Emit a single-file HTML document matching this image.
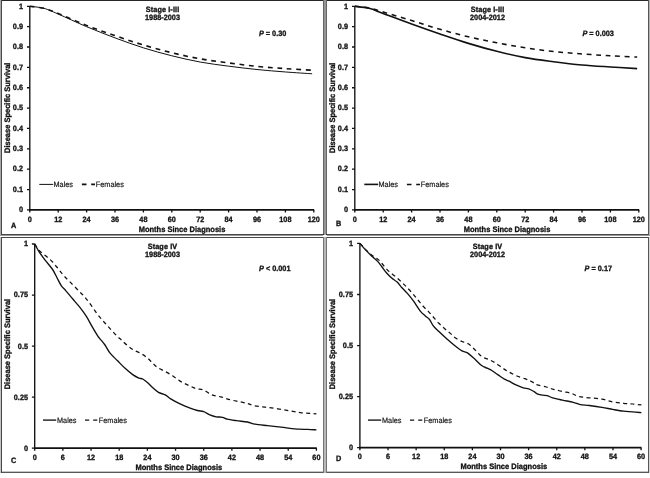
<!DOCTYPE html>
<html lang="en"><head><meta charset="utf-8"><title>Disease Specific Survival</title>
<style>
html,body{margin:0;padding:0;background:#fff;}
body{width:650px;height:478px;overflow:hidden;}
svg{display:block;}
text{font-family:'Liberation Sans', Arial, Helvetica, sans-serif;font-size:7.3px;fill:#111;text-rendering:geometricPrecision;}
.b text,text.b{font-weight:bold;stroke:#111;stroke-width:0.3px;}
text.r{stroke:#111;stroke-width:0.15px;}
text.ax{font-size:7.5px;}
text.ls{letter-spacing:0.1px;}
</style></head><body>
<svg width="650" height="478" viewBox="0 0 650 478">
<rect width="650" height="478" fill="#fff"/>
<g shape-rendering="crispEdges">
<rect x="0" y="0" width="650" height="1" fill="#262626"/>
<rect x="0" y="234" width="650" height="1" fill="#484848"/>
<rect x="0" y="235" width="650" height="1" fill="#9a9a9a"/>
<rect x="0" y="237" width="650" height="1" fill="#484848"/>
<rect x="0" y="471" width="650" height="1" fill="#c4c4c4"/>
<rect x="0" y="472" width="650" height="1" fill="#585858"/>
<rect x="0" y="0" width="1" height="235" fill="#a8a8a8"/>
<rect x="0" y="237" width="1" height="236" fill="#c4c4c4"/>
<rect x="1" y="0" width="1" height="235" fill="#484848"/>
<rect x="1" y="237" width="1" height="236" fill="#484848"/>
<rect x="648" y="0" width="1" height="235" fill="#555"/>
<rect x="648" y="237" width="1" height="236" fill="#555"/>
<rect x="649" y="0" width="1" height="235" fill="#b4b4b4"/>
<rect x="649" y="237" width="1" height="236" fill="#d8d8d8"/>
<rect x="324" y="0" width="2" height="473" fill="#969696"/>
<rect x="324" y="236" width="2" height="237" fill="#b8b8b8"/>
<rect x="323" y="0" width="1" height="473" fill="#666"/>
<rect x="326" y="0" width="1" height="473" fill="#666"/>
<rect x="323" y="237" width="1" height="236" fill="#747474"/>
<rect x="326" y="237" width="1" height="236" fill="#747474"/>
<rect x="323" y="234" width="1" height="1" fill="#222"/>
<rect x="326" y="234" width="1" height="1" fill="#222"/>
<rect x="323" y="235" width="4" height="2" fill="#fff"/>
<rect x="324" y="234" width="2" height="1" fill="#aaa"/>
<rect x="0" y="236" width="650" height="1" fill="#fff"/>
</g>
<g stroke="#111" stroke-width="1.5" fill="none">
<path stroke-width="1.35" d="M29.8 6V210.75"/>
<path stroke-width="1.7" d="M29.13 209.9H314.2"/>
<path stroke-width="1.3" d="M27 209.9H29.8M27 189.54H29.8M27 169.18H29.8M27 148.82H29.8M27 128.46H29.8M27 108.1H29.8M27 87.74H29.8M27 67.38H29.8M27 47.02H29.8M27 26.66H29.8M27 6.3H29.8M29.8 209.9V212.5M58.2 209.9V212.5M86.6 209.9V212.5M115 209.9V212.5M143.4 209.9V212.5M171.8 209.9V212.5M200.2 209.9V212.5M228.6 209.9V212.5M257 209.9V212.5M285.4 209.9V212.5M313.8 209.9V212.5"/>
</g>
<g class="b" text-anchor="end">
<text transform="translate(23 212.2) scale(1 1.06)">0</text>
<text transform="translate(23 191.84) scale(1 1.06)">0.1</text>
<text transform="translate(23 171.48) scale(1 1.06)">0.2</text>
<text transform="translate(23 151.12) scale(1 1.06)">0.3</text>
<text transform="translate(23 130.76) scale(1 1.06)">0.4</text>
<text transform="translate(23 110.4) scale(1 1.06)">0.5</text>
<text transform="translate(23 90.04) scale(1 1.06)">0.6</text>
<text transform="translate(23 69.68) scale(1 1.06)">0.7</text>
<text transform="translate(23 49.32) scale(1 1.06)">0.8</text>
<text transform="translate(23 28.96) scale(1 1.06)">0.9</text>
<text transform="translate(23 8.6) scale(1 1.06)">1</text>
</g>
<g class="b" text-anchor="middle">
<text transform="translate(29.8 221.7) scale(1 1.06)">0</text>
<text transform="translate(58.2 221.7) scale(1 1.06)">12</text>
<text transform="translate(86.6 221.7) scale(1 1.06)">24</text>
<text transform="translate(115 221.7) scale(1 1.06)">36</text>
<text transform="translate(143.4 221.7) scale(1 1.06)">48</text>
<text transform="translate(171.8 221.7) scale(1 1.06)">60</text>
<text transform="translate(200.2 221.7) scale(1 1.06)">72</text>
<text transform="translate(228.6 221.7) scale(1 1.06)">84</text>
<text transform="translate(257 221.7) scale(1 1.06)">96</text>
<text transform="translate(285.4 221.7) scale(1 1.06)">108</text>
<text transform="translate(313.8 221.7) scale(1 1.06)">120</text>
</g>
<g class="b" text-anchor="middle">
<text class="ls" transform="translate(162.5 11.8) scale(1 1.06)">Stage I-III</text>
<text transform="translate(162.5 20.3) scale(1 1.06)">1988-2003</text>
<text class="ax" transform="translate(182 232.2) scale(1 1.06)">Months Since Diagnosis</text>
<text class="ax" transform="translate(10.2 107.8) rotate(-90) scale(1 1.06)">Disease Specific Survival</text>
</g>
<text class="b" transform="translate(258.9 36.4) scale(1 1.06)"><tspan font-style="italic">P</tspan> = 0.30</text>
<text class="b" transform="translate(11 228) scale(1 1.06)">A</text>
<path d="M39.3 184.4h13.9" stroke="#111" stroke-width="1.0"/>
<path d="M81.9 184.4h4.6m4.7 0h3.8" stroke="#111" stroke-width="1.6"/>
<text class="r" transform="translate(53.5 187) scale(1 1.06)">Males</text>
<text class="r" transform="translate(95.8 187) scale(1 1.06)">Females</text>
<path d="M29.8 6.3 C32.17 6.64 39.27 7.05 44 8.34 C48.73 9.63 51.1 10.98 58.2 14.04 C65.3 17.09 77.13 22.69 86.6 26.66 C96.07 30.63 105.53 34.33 115 37.86 C124.47 41.39 133.93 44.85 143.4 47.83 C152.87 50.82 162.33 53.41 171.8 55.77 C181.27 58.14 190.73 60.32 200.2 62.05 C209.67 63.78 219.13 64.91 228.6 66.16 C238.07 67.4 247.53 68.55 257 69.52 C266.47 70.48 276.21 71.25 285.4 71.96 C294.59 72.67 307.69 73.49 312.14 73.79" fill="none" stroke="#111" stroke-width="1.0" stroke-linejoin="round"/>
<path d="M29.8 6.3 C32.17 6.64 39.27 7.15 44 8.34 C48.73 9.52 51.1 10.58 58.2 13.43 C65.3 16.28 77.13 21.74 86.6 25.44 C96.07 29.14 105.53 32.36 115 35.62 C124.47 38.88 133.93 42.13 143.4 44.98 C152.87 47.83 162.33 50.41 171.8 52.72 C181.27 55.03 190.73 57.13 200.2 58.83 C209.67 60.53 219.13 61.65 228.6 62.9 C238.07 64.16 247.53 65.41 257 66.36 C266.47 67.31 276.21 67.96 285.4 68.6 C294.59 69.25 307.69 69.96 312.14 70.23" fill="none" stroke="#111" stroke-width="1.6" stroke-dasharray="4.8 4.7" stroke-linejoin="round"/>
<g stroke="#111" stroke-width="1.5" fill="none">
<path stroke-width="1.35" d="M354.8 6V210.75"/>
<path stroke-width="1.7" d="M354.13 209.9H639.2"/>
<path stroke-width="1.3" d="M352 209.9H354.8M352 189.54H354.8M352 169.18H354.8M352 148.82H354.8M352 128.46H354.8M352 108.1H354.8M352 87.74H354.8M352 67.38H354.8M352 47.02H354.8M352 26.66H354.8M352 6.3H354.8M354.8 209.9V212.5M383.2 209.9V212.5M411.6 209.9V212.5M440 209.9V212.5M468.4 209.9V212.5M496.8 209.9V212.5M525.2 209.9V212.5M553.6 209.9V212.5M582 209.9V212.5M610.4 209.9V212.5M638.8 209.9V212.5"/>
</g>
<g class="b" text-anchor="end">
<text transform="translate(348 212.2) scale(1 1.06)">0</text>
<text transform="translate(348 191.84) scale(1 1.06)">0.1</text>
<text transform="translate(348 171.48) scale(1 1.06)">0.2</text>
<text transform="translate(348 151.12) scale(1 1.06)">0.3</text>
<text transform="translate(348 130.76) scale(1 1.06)">0.4</text>
<text transform="translate(348 110.4) scale(1 1.06)">0.5</text>
<text transform="translate(348 90.04) scale(1 1.06)">0.6</text>
<text transform="translate(348 69.68) scale(1 1.06)">0.7</text>
<text transform="translate(348 49.32) scale(1 1.06)">0.8</text>
<text transform="translate(348 28.96) scale(1 1.06)">0.9</text>
<text transform="translate(348 8.6) scale(1 1.06)">1</text>
</g>
<g class="b" text-anchor="middle">
<text transform="translate(354.8 221.7) scale(1 1.06)">0</text>
<text transform="translate(383.2 221.7) scale(1 1.06)">12</text>
<text transform="translate(411.6 221.7) scale(1 1.06)">24</text>
<text transform="translate(440 221.7) scale(1 1.06)">36</text>
<text transform="translate(468.4 221.7) scale(1 1.06)">48</text>
<text transform="translate(496.8 221.7) scale(1 1.06)">60</text>
<text transform="translate(525.2 221.7) scale(1 1.06)">72</text>
<text transform="translate(553.6 221.7) scale(1 1.06)">84</text>
<text transform="translate(582 221.7) scale(1 1.06)">96</text>
<text transform="translate(610.4 221.7) scale(1 1.06)">108</text>
<text transform="translate(638.8 221.7) scale(1 1.06)">120</text>
</g>
<g class="b" text-anchor="middle">
<text class="ls" transform="translate(487.5 11.8) scale(1 1.06)">Stage I-III</text>
<text transform="translate(487.5 20.3) scale(1 1.06)">2004-2012</text>
<text class="ax" transform="translate(507 232.2) scale(1 1.06)">Months Since Diagnosis</text>
<text class="ax" transform="translate(335.2 107.8) rotate(-90) scale(1 1.06)">Disease Specific Survival</text>
</g>
<text class="b" transform="translate(582.4 36.4) scale(1 1.06)"><tspan font-style="italic">P</tspan> = 0.003</text>
<text class="b" transform="translate(336 225.6) scale(1 1.06)">B</text>
<path d="M364.3 184.4h13.9" stroke="#111" stroke-width="1.6"/>
<path d="M406.9 184.4h4.6m4.7 0h3.8" stroke="#111" stroke-width="1.55"/>
<text class="r" transform="translate(378.5 187) scale(1 1.06)">Males</text>
<text class="r" transform="translate(420.8 187) scale(1 1.06)">Females</text>
<path d="M354.8 6.3 C357.17 6.64 364.27 7.15 369 8.34 C373.73 9.52 376.1 10.81 383.2 13.43 C390.3 16.04 402.13 20.59 411.6 24.01 C421.07 27.44 430.53 30.77 440 33.99 C449.47 37.21 458.93 40.47 468.4 43.36 C477.87 46.24 487.33 48.92 496.8 51.3 C506.27 53.67 515.73 55.88 525.2 57.61 C534.67 59.34 544.13 60.46 553.6 61.68 C563.07 62.9 572.53 64.05 582 64.94 C591.47 65.82 601.21 66.36 610.4 66.97 C619.59 67.58 632.69 68.33 637.14 68.6" fill="none" stroke="#111" stroke-width="1.6" stroke-linejoin="round"/>
<path d="M354.8 6.3 C357.17 6.57 364.27 6.98 369 7.93 C373.73 8.88 376.1 9.9 383.2 12 C390.3 14.1 402.13 17.67 411.6 20.55 C421.07 23.44 430.53 26.59 440 29.31 C449.47 32.02 458.93 34.6 468.4 36.84 C477.87 39.08 487.33 40.91 496.8 42.74 C506.27 44.58 515.73 46.38 525.2 47.83 C534.67 49.29 544.13 50.48 553.6 51.5 C563.07 52.52 572.53 53.23 582 53.94 C591.47 54.66 601.21 55.25 610.4 55.77 C619.59 56.3 632.69 56.88 637.14 57.1" fill="none" stroke="#111" stroke-width="1.55" stroke-dasharray="4.8 4.7" stroke-linejoin="round"/>
<g stroke="#111" stroke-width="1.5" fill="none">
<path stroke-width="1.35" d="M34.7 243.7V449.05"/>
<path stroke-width="1.7" d="M34.03 448.2H316.8"/>
<path stroke-width="1.3" d="M31.9 448.2H34.7M31.9 397.15H34.7M31.9 346.1H34.7M31.9 295.05H34.7M31.9 244H34.7M34.7 448.2V450.8M62.87 448.2V450.8M91.04 448.2V450.8M119.21 448.2V450.8M147.38 448.2V450.8M175.55 448.2V450.8M203.72 448.2V450.8M231.89 448.2V450.8M260.06 448.2V450.8M288.23 448.2V450.8M316.4 448.2V450.8"/>
</g>
<g class="b" text-anchor="end">
<text transform="translate(28 450.6) scale(1 1.06)">0</text>
<text transform="translate(28 399.55) scale(1 1.06)">0.25</text>
<text transform="translate(28 348.5) scale(1 1.06)">0.5</text>
<text transform="translate(28 297.45) scale(1 1.06)">0.75</text>
<text transform="translate(28 246.4) scale(1 1.06)">1</text>
</g>
<g class="b" text-anchor="middle">
<text transform="translate(34.7 459.7) scale(1 1.06)">0</text>
<text transform="translate(62.87 459.7) scale(1 1.06)">6</text>
<text transform="translate(91.04 459.7) scale(1 1.06)">12</text>
<text transform="translate(119.21 459.7) scale(1 1.06)">18</text>
<text transform="translate(147.38 459.7) scale(1 1.06)">24</text>
<text transform="translate(175.55 459.7) scale(1 1.06)">30</text>
<text transform="translate(203.72 459.7) scale(1 1.06)">36</text>
<text transform="translate(231.89 459.7) scale(1 1.06)">42</text>
<text transform="translate(260.06 459.7) scale(1 1.06)">48</text>
<text transform="translate(288.23 459.7) scale(1 1.06)">54</text>
<text transform="translate(316.4 459.7) scale(1 1.06)">60</text>
</g>
<g class="b" text-anchor="middle">
<text class="ls" transform="translate(162.5 248.6) scale(1 1.06)">Stage IV</text>
<text transform="translate(162.5 257.4) scale(1 1.06)">1988-2003</text>
<text class="ax" transform="translate(178.8 469.6) scale(1 1.06)">Months Since Diagnosis</text>
<text class="ax" transform="translate(10.2 344.1) rotate(-90) scale(1 1.06)">Disease Specific Survival</text>
</g>
<text class="b" transform="translate(259 270.5) scale(1 1.06)"><tspan font-style="italic">P</tspan> &lt; 0.001</text>
<text class="b" transform="translate(11 463) scale(1 1.06)">C</text>
<path d="M43 420.1h13.2" stroke="#111" stroke-width="1.35"/>
<path d="M85 420.1h4.2m4 0h4.1" stroke="#111" stroke-width="1.25"/>
<text class="r" transform="translate(57 422.7) scale(1 1.06)">Males</text>
<text class="r" transform="translate(98.8 422.7) scale(1 1.06)">Females</text>
<path d="M34.7 244 C35.38 245.22 37.07 248.62 38.8 251.3 C40.53 253.98 42.8 257.07 45.1 260.1 C47.4 263.13 50.62 266.57 52.6 269.5 C54.58 272.43 55.53 274.97 57 277.7 C58.47 280.43 59.95 283.75 61.4 285.9 C62.85 288.05 63.83 288.45 65.7 290.6 C67.57 292.75 70.2 295.97 72.6 298.8 C75 301.63 77.8 304.67 80.1 307.6 C82.4 310.53 84.42 313.27 86.4 316.4 C88.38 319.53 90.12 323.15 92 326.4 C93.88 329.65 96.37 333.83 97.7 335.9 C99.03 337.97 98.78 337.28 100 338.8 C101.22 340.32 103.32 342.6 105 345 C106.68 347.4 108 350.57 110.1 353.2 C112.2 355.83 115.1 358.28 117.6 360.8 C120.1 363.32 122.58 366 125.1 368.3 C127.62 370.6 130.4 372.97 132.7 374.6 C135 376.23 137.23 377.37 138.9 378.1 C140.57 378.83 141.23 378.23 142.7 379 C144.17 379.77 146.02 381.23 147.7 382.7 C149.38 384.17 151 386.18 152.8 387.8 C154.6 389.42 156.42 391.22 158.5 392.4 C160.58 393.58 163.27 393.83 165.3 394.9 C167.33 395.97 168.23 397.3 170.7 398.8 C173.17 400.3 176.97 402.38 180.1 403.9 C183.23 405.42 186.62 406.8 189.5 407.9 C192.38 409 195.03 409.88 197.4 410.5 C199.77 411.12 201.62 410.87 203.7 411.6 C205.78 412.33 207.82 414.03 209.9 414.9 C211.98 415.77 214.1 416.4 216.2 416.8 C218.3 417.2 220.67 416.9 222.5 417.3 C224.33 417.7 224.85 418.63 227.2 419.2 C229.55 419.77 233.22 420.23 236.6 420.7 C239.98 421.17 244.42 421.42 247.5 422 C250.58 422.58 251.75 423.6 255.1 424.2 C258.45 424.8 263.63 425.17 267.6 425.6 C271.57 426.03 275.43 426.38 278.9 426.8 C282.37 427.22 285.05 427.7 288.4 428.1 C291.75 428.5 295.77 428.98 299 429.2 C302.23 429.42 304.9 429.28 307.8 429.4 C310.7 429.52 314.97 429.82 316.4 429.9" fill="none" stroke="#111" stroke-width="1.35" stroke-linejoin="round"/>
<path d="M34.7 244 C35.48 245.12 37.47 248.65 39.4 250.7 C41.33 252.75 44.1 254.42 46.3 256.3 C48.5 258.18 50.6 259.9 52.6 262 C54.6 264.1 56.42 266.6 58.3 268.9 C60.18 271.2 61.92 273.6 63.9 275.8 C65.88 278 67.75 279.62 70.2 282.1 C72.65 284.58 76.12 288.13 78.6 290.7 C81.08 293.27 82.97 295 85.1 297.5 C87.23 300 89.3 302.87 91.4 305.7 C93.5 308.53 95.6 311.78 97.7 314.5 C99.8 317.22 101.9 319.6 104 322 C106.1 324.4 108.13 326.57 110.3 328.9 C112.47 331.23 115.15 334.15 117 336 C118.85 337.85 119.63 338.38 121.4 340 C123.17 341.62 125.52 344.02 127.6 345.7 C129.68 347.38 131.58 348.75 133.9 350.1 C136.22 351.45 139.2 352.45 141.5 353.8 C143.8 355.15 145.82 356.62 147.7 358.2 C149.58 359.78 151.12 361.72 152.8 363.3 C154.48 364.88 155.77 366.35 157.8 367.7 C159.83 369.05 162.53 370.05 165 371.4 C167.47 372.75 170.08 374.18 172.6 375.8 C175.12 377.42 177.53 379.55 180.1 381.1 C182.67 382.65 185.38 383.87 188 385.1 C190.62 386.33 193.18 387.67 195.8 388.5 C198.42 389.33 201.08 389.05 203.7 390.1 C206.32 391.15 208.63 393.67 211.5 394.8 C214.37 395.93 217.75 396.07 220.9 396.9 C224.05 397.73 227.22 398.98 230.4 399.8 C233.58 400.62 237.15 401.18 240 401.8 C242.85 402.42 245.2 402.87 247.5 403.5 C249.8 404.13 250.87 404.98 253.8 405.6 C256.73 406.22 261.12 406.67 265.1 407.2 C269.08 407.73 273.5 408.17 277.7 408.8 C281.9 409.43 286.53 410.37 290.3 411 C294.07 411.63 296.95 412.2 300.3 412.6 C303.65 413 307.72 413.18 310.4 413.4 C313.08 413.62 315.4 413.82 316.4 413.9" fill="none" stroke="#111" stroke-width="1.25" stroke-dasharray="4.0 3.4" stroke-linejoin="round"/>
<g stroke="#111" stroke-width="1.5" fill="none">
<path stroke-width="1.35" d="M359.9 243.1V448.55"/>
<path stroke-width="1.7" d="M359.23 447.7H641.5"/>
<path stroke-width="1.3" d="M357.1 447.7H359.9M357.1 396.62H359.9M357.1 345.55H359.9M357.1 294.48H359.9M357.1 243.4H359.9M359.9 447.7V450.3M388.02 447.7V450.3M416.14 447.7V450.3M444.26 447.7V450.3M472.38 447.7V450.3M500.5 447.7V450.3M528.62 447.7V450.3M556.74 447.7V450.3M584.86 447.7V450.3M612.98 447.7V450.3M641.1 447.7V450.3"/>
</g>
<g class="b" text-anchor="end">
<text transform="translate(353 450.1) scale(1 1.06)">0</text>
<text transform="translate(353 399.02) scale(1 1.06)">0.25</text>
<text transform="translate(353 347.95) scale(1 1.06)">0.5</text>
<text transform="translate(353 296.88) scale(1 1.06)">0.75</text>
<text transform="translate(353 245.8) scale(1 1.06)">1</text>
</g>
<g class="b" text-anchor="middle">
<text transform="translate(359.9 459.4) scale(1 1.06)">0</text>
<text transform="translate(388.02 459.4) scale(1 1.06)">6</text>
<text transform="translate(416.14 459.4) scale(1 1.06)">12</text>
<text transform="translate(444.26 459.4) scale(1 1.06)">18</text>
<text transform="translate(472.38 459.4) scale(1 1.06)">24</text>
<text transform="translate(500.5 459.4) scale(1 1.06)">30</text>
<text transform="translate(528.62 459.4) scale(1 1.06)">36</text>
<text transform="translate(556.74 459.4) scale(1 1.06)">42</text>
<text transform="translate(584.86 459.4) scale(1 1.06)">48</text>
<text transform="translate(612.98 459.4) scale(1 1.06)">54</text>
<text transform="translate(641.1 459.4) scale(1 1.06)">60</text>
</g>
<g class="b" text-anchor="middle">
<text class="ls" transform="translate(487.5 248.6) scale(1 1.06)">Stage IV</text>
<text transform="translate(487.5 257.4) scale(1 1.06)">2004-2012</text>
<text class="ax" transform="translate(503.8 469.4) scale(1 1.06)">Months Since Diagnosis</text>
<text class="ax" transform="translate(335.2 344.1) rotate(-90) scale(1 1.06)">Disease Specific Survival</text>
</g>
<text class="b" transform="translate(584.6 270.5) scale(1 1.06)"><tspan font-style="italic">P</tspan> = 0.17</text>
<text class="b" transform="translate(336 461) scale(1 1.06)">D</text>
<path d="M368 420.1h13.2" stroke="#111" stroke-width="1.35"/>
<path d="M410 420.1h4.2m4 0h4.1" stroke="#111" stroke-width="1.25"/>
<text class="r" transform="translate(382 422.7) scale(1 1.06)">Males</text>
<text class="r" transform="translate(423.8 422.7) scale(1 1.06)">Females</text>
<path d="M359.9 243.4 C360.77 244.4 363.2 247.35 365.1 249.4 C367 251.45 369.22 253.7 371.3 255.7 C373.38 257.7 375.82 259.52 377.6 261.4 C379.38 263.28 380.53 265.12 382 267 C383.47 268.88 384.83 270.92 386.4 272.7 C387.97 274.48 389.62 276.13 391.4 277.7 C393.18 279.27 395.33 280.42 397.1 282.1 C398.87 283.78 400.25 285.88 402 287.8 C403.75 289.72 405.67 291.37 407.6 293.6 C409.53 295.83 411.52 298.33 413.6 301.2 C415.68 304.07 418.18 308.37 420.1 310.8 C422.02 313.23 423.53 314.35 425.1 315.8 C426.67 317.25 428.13 317.83 429.5 319.5 C430.87 321.17 431.73 323.8 433.3 325.8 C434.87 327.8 436.72 329.4 438.9 331.5 C441.08 333.6 443.88 336.15 446.4 338.4 C448.92 340.65 451.4 342.92 454 345 C456.6 347.08 459.75 349.58 462 350.9 C464.25 352.22 465.42 351.58 467.5 352.9 C469.58 354.22 472.15 356.7 474.5 358.8 C476.85 360.9 479.5 363.93 481.6 365.5 C483.7 367.07 485.4 367.37 487.1 368.2 C488.8 369.03 489.97 369.38 491.8 370.5 C493.63 371.62 496 373.45 498.1 374.9 C500.2 376.35 502.57 378.15 504.4 379.2 C506.23 380.25 507.27 380.28 509.1 381.2 C510.93 382.12 513.05 383.6 515.4 384.7 C517.75 385.8 520.98 387.12 523.2 387.8 C525.42 388.48 526.87 388.15 528.7 388.8 C530.53 389.45 532.78 390.87 534.2 391.7 C535.62 392.53 535.8 393.22 537.2 393.8 C538.6 394.38 540.95 394.9 542.6 395.2 C544.25 395.5 545.45 395.17 547.1 395.6 C548.75 396.03 549.95 397.05 552.5 397.8 C555.05 398.55 558.95 399.35 562.4 400.1 C565.85 400.85 570.2 401.55 573.2 402.3 C576.2 403.05 577.7 404.07 580.4 404.6 C583.1 405.13 585.8 405.05 589.4 405.5 C593 405.95 598.1 406.65 602 407.3 C605.9 407.95 609.2 408.75 612.8 409.4 C616.4 410.05 620.3 410.8 623.6 411.2 C626.9 411.6 629.63 411.55 632.6 411.8 C635.57 412.05 639.93 412.55 641.4 412.7" fill="none" stroke="#111" stroke-width="1.35" stroke-linejoin="round"/>
<path d="M359.9 243.4 C360.97 244.52 364.18 248.05 366.3 250.1 C368.42 252.15 370.5 254.03 372.6 255.7 C374.7 257.37 377.02 258.42 378.9 260.1 C380.78 261.78 382.23 263.92 383.9 265.8 C385.57 267.68 387.02 269.63 388.9 271.4 C390.78 273.17 393.1 274.62 395.2 276.4 C397.3 278.18 399.62 280.33 401.5 282.1 C403.38 283.87 404.78 285.25 406.5 287 C408.22 288.75 410.05 290.63 411.8 292.6 C413.55 294.57 415.2 296.62 417 298.8 C418.8 300.98 420.72 303.6 422.6 305.7 C424.48 307.8 426.52 309.52 428.3 311.4 C430.08 313.28 431.53 315.02 433.3 317 C435.07 318.98 436.95 321.3 438.9 323.3 C440.85 325.3 443.1 327.32 445 329 C446.9 330.68 448.55 331.9 450.3 333.4 C452.05 334.9 453.55 336.65 455.5 338 C457.45 339.35 459.87 340.53 462 341.5 C464.13 342.47 466.22 342.5 468.3 343.8 C470.38 345.1 472.28 347.2 474.5 349.3 C476.72 351.4 479.23 354.7 481.6 356.4 C483.97 358.1 486.47 358.45 488.7 359.5 C490.93 360.55 492.65 361.25 495 362.7 C497.35 364.15 500.45 366.63 502.8 368.2 C505.15 369.77 506.75 370.8 509.1 372.1 C511.45 373.4 514.28 374.9 516.9 376 C519.52 377.1 522.67 377.93 524.8 378.7 C526.93 379.47 528.13 379.87 529.7 380.6 C531.27 381.33 532.95 382.4 534.2 383.1 C535.45 383.8 535.2 384.15 537.2 384.8 C539.2 385.45 543.5 386.25 546.2 387 C548.9 387.75 550.7 388.55 553.4 389.3 C556.1 390.05 559.4 390.83 562.4 391.5 C565.4 392.17 568.7 392.47 571.4 393.3 C574.1 394.13 575.6 395.75 578.6 396.5 C581.6 397.25 585.5 397.35 589.4 397.8 C593.3 398.25 598.1 398.52 602 399.2 C605.9 399.88 609.2 401.22 612.8 401.9 C616.4 402.58 620.3 402.95 623.6 403.3 C626.9 403.65 629.63 403.73 632.6 404 C635.57 404.27 639.93 404.75 641.4 404.9" fill="none" stroke="#111" stroke-width="1.25" stroke-dasharray="4.0 3.4" stroke-linejoin="round"/>
</svg></body></html>
